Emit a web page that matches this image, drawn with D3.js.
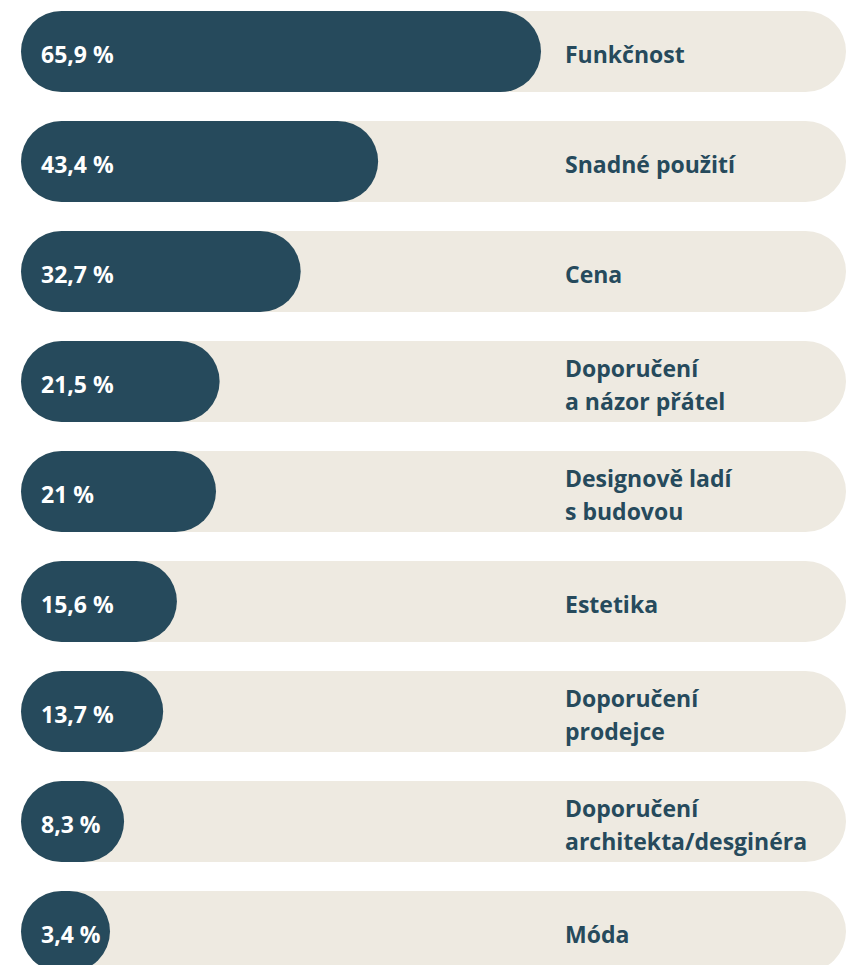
<!DOCTYPE html>
<html>
<head>
<meta charset="utf-8">
<script src="https://cdn.jsdelivr.net/npm/d3@7"></script>
<style>
  body { margin: 0; background: #fff; }
  svg { display: block; font-family: "Open Sans", Lato, sans-serif; font-weight: 700; }
</style>
</head>
<body>
<div id="chart"></div>
<script>
const categories = [
  "Funkčnost",
  "Snadné použití",
  "Cena",
  "Doporučení\na názor přátel",
  "Designově ladí\ns budovou",
  "Estetika",
  "Doporučení\nprodejce",
  "Doporučení\narchitekta/desginéra",
  "Móda"
];
const values = [65.9, 43.4, 32.7, 21.5, 21, 15.6, 13.7, 8.3, 3.4];
const valueLabels = ["65,9 %", "43,4 %", "32,7 %", "21,5 %", "21 %", "15,6 %", "13,7 %", "8,3 %", "3,4 %"];

const width = 846, height = 965;
const left = 21, right = 846, labelX = 565;
const dark = "#264a5c", track = "#eeeae1";

const svg = d3.select("#chart").append("svg")
  .attr("width", width)
  .attr("height", height);

const y = d3.scaleBand()
  .domain(categories)
  .range([11, 972])
  .paddingInner(29 / 110)
  .paddingOuter(0);

const bh = y.bandwidth();

const x = d3.scaleLinear()
  .domain([0, 65.9])
  .range([64, 541]);

const rows = svg.selectAll("g.row")
  .data(categories)
  .enter()
  .append("g")
  .attr("class", "row")
  .attr("transform", (d) => `translate(0, ${y(d)})`);

// background track
rows.append("rect")
  .attr("x", left)
  .attr("y", 0)
  .attr("width", right - left)
  .attr("height", bh)
  .attr("rx", bh / 2)
  .attr("fill", track);

// value bar
rows.append("rect")
  .attr("x", left)
  .attr("y", 0)
  .attr("width", (d, i) => Math.max(bh + 8, x(values[i]) - left))
  .attr("height", bh)
  .attr("rx", bh / 2)
  .attr("fill", dark);

rows.append("text")
  .attr("x", 41)
  .attr("y", bh / 2 + 11.5)
  .attr("fill", "#fff")
  .style("font-size", "23px")
  .text((d, i) => valueLabels[i]);

rows.each(function (d) {
  const lines = d.split("\n");
  const t = d3.select(this).append("text")
    .attr("fill", dark)
    .style("font-size", "23px");
  lines.forEach((line, k) => {
    t.append("tspan")
      .attr("x", labelX)
      .attr("y", bh / 2 + 11.5 + (k - (lines.length - 1) / 2) * 33)
      .text(line);
  });
});
</script>
</body>
</html>
